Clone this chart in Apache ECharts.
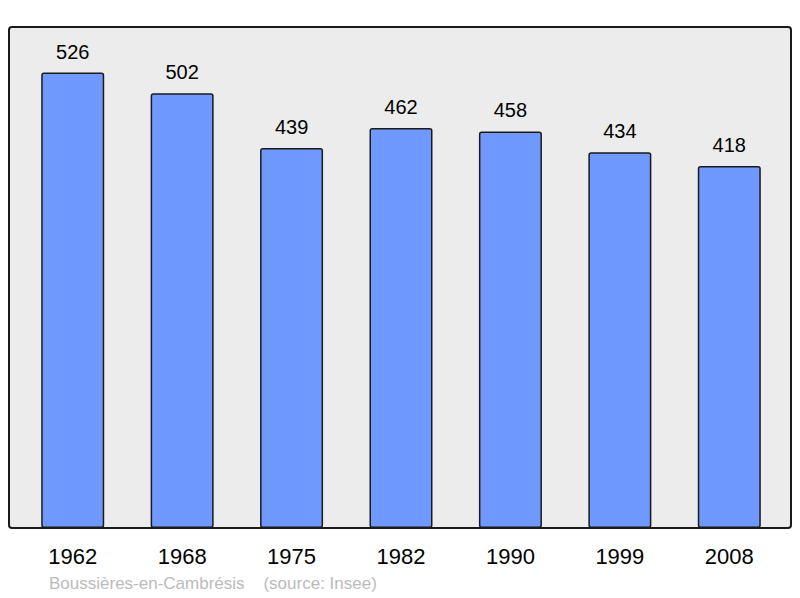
<!DOCTYPE html>
<html><head><meta charset="utf-8">
<script src="https://cdn.jsdelivr.net/npm/echarts@6/dist/echarts.min.js"></script>
<style>html,body{margin:0;padding:0;background:#fff}#c{width:800px;height:598px}</style>
</head><body><div id="c"></div>
<script>
const years = ['1962','1968','1975','1982','1990','1999','2008'];
const population = [526, 502, 439, 462, 458, 434, 418];
const footer = 'Boussières-en-Cambrésis    (source: Insee)';

const chart = echarts.init(document.getElementById('c'), null, {renderer: 'svg'});
chart.setOption({
  animation: false,
  backgroundColor: '#ffffff',
  graphic: [
    {type: 'rect', z: -10, shape: {x: 9, y: 27, width: 782, height: 501, r: 3},
     style: {fill: '#ececec', stroke: '#1a1a1a', lineWidth: 2}},
    {type: 'text', left: 49, top: 575,
     style: {text: footer, fill: '#bbbbbb', font: '17px "Liberation Sans", Arial, sans-serif'}}
  ],
  grid: {left: 18, right: 16, top: 27, bottom: 70},
  xAxis: {
    type: 'category', data: years,
    axisLine: {show: false}, axisTick: {show: false},
    axisLabel: {color: '#000', fontSize: 22, fontFamily: '"Liberation Sans", Arial, sans-serif', margin: 17}
  },
  yAxis: {type: 'value', min: 0, max: 578.6, show: false, splitLine: {show: false}},
  series: [{
    type: 'bar', data: population, barWidth: 63,
    itemStyle: {color: '#7099ff', borderColor: '#1a1a1a', borderWidth: 1.5, borderRadius: 2},
    label: {show: true, position: 'top', distance: 11, color: '#000', fontSize: 20,
      fontFamily: '"Liberation Sans", Arial, sans-serif'}
  }]
});
</script></body></html>
